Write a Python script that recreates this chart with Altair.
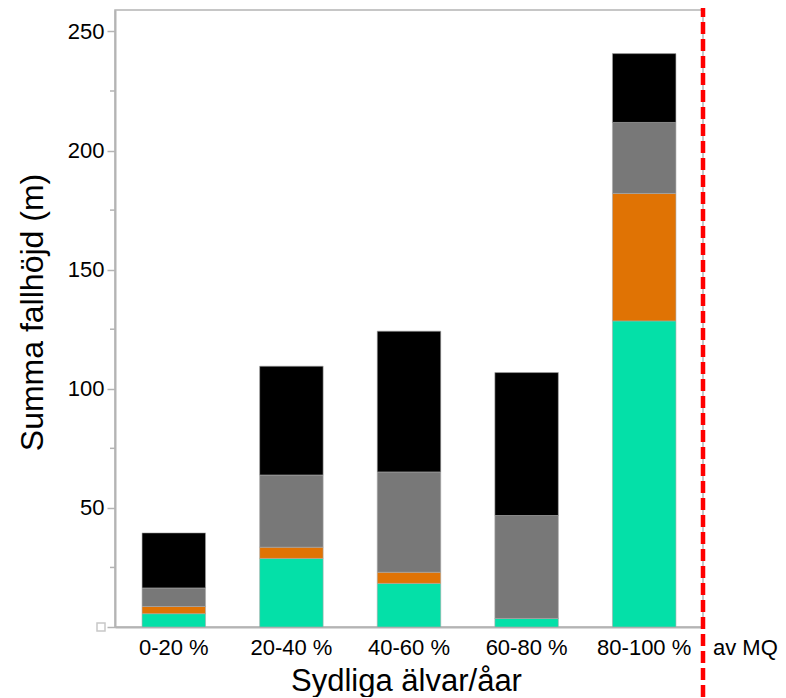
import altair as alt
import pandas as pd

# ---- data ----
categories = ["0-20 %", "20-40 %", "40-60 %", "60-80 %", "80-100 %"]
series = ["Serie 1", "Serie 2", "Serie 3", "Serie 4"]
serie1 = [5.6, 28.8, 18.3, 3.6, 128.5]    # green (bottom)
serie2 = [3.0, 4.7, 4.7, 0.0, 53.5]       # orange
serie3 = [7.8, 30.3, 42.1, 43.2, 29.8]    # grey
serie4 = [23.1, 45.7, 59.1, 60.0, 28.9]   # black (top)
colors = ["#04E0A8", "#E07304", "#787878", "#000000"]
major_ticks = [0, 50, 100, 150, 200, 250]
minor_ticks = [25, 75, 125, 175, 225]
zero_mark = [0]
extra_label = ["av MQ"]

rows = []
for i, c in enumerate(categories):
    for j, vals in enumerate([serie1, serie2, serie3, serie4]):
        rows.append({"kat": c, "serie": series[j], "ordning": j, "varde": vals[i]})
df = pd.DataFrame(rows)

W, H = 588, 617
FONT = "Liberation Sans"
GREY = "#b4b4b4"
YTITLE = "Summa fallhöjd (m)"
LBL = 22

yaxis = alt.Axis(
    title=YTITLE,
    values=major_ticks,
    labelExpr="datum.value == 0 ? '' : datum.label",
    tickSize=8,
    tickColor=GREY,
    tickWidth=1.5,
    labelPadding=3,
    labelFontSize=LBL,
    titleFontSize=32,
    titleFontWeight="normal",
    titleAngle=-90,
    titleBaseline="alphabetic",
    titleX=-73,
    titleY=302,
    grid=False,
    domainColor=GREY,
    domainWidth=2,
)
yscale = alt.Scale(domain=[0, 259], nice=False, zero=True)

x = alt.X(
    "kat:N",
    sort=categories,
    scale=alt.Scale(paddingInner=0.46, paddingOuter=0.23),
    axis=alt.Axis(
        title="Sydliga älvar/åar",
        labelAngle=0,
        ticks=False,
        tickSize=0,
        labelPadding=10,
        labelFontSize=LBL,
        titleFontSize=31,
        titleFontWeight="normal",
        titleBaseline="alphabetic",
        titleY=63,
        titleX=291,
        domainColor=GREY,
        domainWidth=2,
    ),
)

bars = alt.Chart(df).mark_bar(stroke="#aaaaaa", strokeWidth=0.6).encode(
    x=x,
    y=alt.Y("varde:Q", stack="zero", scale=yscale, axis=yaxis, title=YTITLE),
    color=alt.Color("serie:N", scale=alt.Scale(domain=series, range=colors), legend=None),
    order=alt.Order("ordning:Q", sort="ascending"),
)

minor = alt.Chart(pd.DataFrame({"varde": minor_ticks})).mark_rule(
    color=GREY, strokeWidth=1.5
).encode(y=alt.Y("varde:Q", scale=yscale, axis=yaxis, title=YTITLE), x=alt.value(-5), x2=alt.value(0))

zero_sq = alt.Chart(pd.DataFrame({"varde": zero_mark})).mark_point(
    shape="square", filled=False, size=64, color="#c8c8c8", strokeWidth=1.5, opacity=1
).encode(y=alt.Y("varde:Q", scale=yscale, axis=yaxis, title=YTITLE), x=alt.value(-14))

red = alt.Chart(pd.DataFrame({"l": extra_label})).mark_rule(
    color="#ff0000", strokeWidth=4.5, strokeDash=[12, 5]
).encode(x=alt.value(W), y=alt.value(-5), y2=alt.value(H + 72))

av_mq = alt.Chart(pd.DataFrame({"l": extra_label})).mark_text(
    align="left", baseline="alphabetic", fontSize=LBL, font=FONT, color="black"
).encode(x=alt.value(W + 10), y=alt.value(H + 28), text="l:N")

chart = (
    alt.layer(bars, minor, zero_sq, red, av_mq)
    .properties(
        width=W,
        height=H,
        autosize=alt.AutoSizeParams(type="none"),
        padding={"left": 107, "top": 2, "right": 75, "bottom": 70},
    )
    .configure_view(stroke=GREY, strokeWidth=1.5)
    .configure_axis(labelFont=FONT, titleFont=FONT, labelColor="black", titleColor="black")
)

chart.save("out.html", embed_options={"renderer": "svg", "actions": False})
